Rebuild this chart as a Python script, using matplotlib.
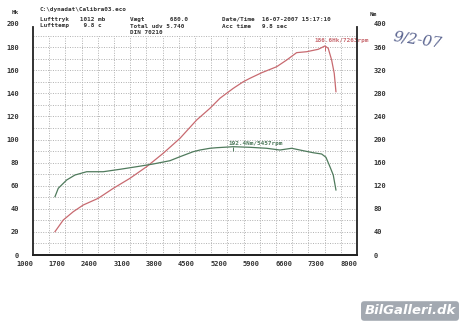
import matplotlib
matplotlib.use("Agg")
import matplotlib.pyplot as plt
import numpy as np

# power curve (Hk)
rpm_hk = [1475, 1654, 1870, 2086, 2410, 2734, 3095, 3456, 3814, 4175, 4536, 4823,
          5039, 5327, 5543, 5687, 5940, 6264, 6480, 6696, 6912, 7163, 7307, 7378,
          7452, 7508, 7545]
hk = [20.2, 30.3, 37.5, 43.3, 49.1, 57.7, 66.4, 76.5, 88.1, 101.0, 116.9, 127.0,
      135.7, 144.3, 150.0, 153.0, 157.8, 163.0, 168.8, 175.2, 176.0, 178.1, 181.0, 179.0,
      168.8, 157.3, 141.4]

# torque curve (Nm)
rpm_nm = [1475, 1546, 1728, 1907, 2160, 2518, 2879, 3240, 3598, 3959, 4175, 4462,
          4607, 4823, 4968, 5327, 5687, 6047, 6335, 6588, 6838, 7054, 7236, 7329,
          7415, 7487, 7545]
nm = [101, 115.5, 129.9, 138.5, 144.2, 144.2, 148.4, 152.9, 157.6, 163.3, 170.2, 178.9,
      181.8, 184.8, 185.8, 187.5, 186.5, 184.8, 181.8, 184.8, 180.6, 177.1, 174.9, 169.2,
      152.9, 138.5, 112.6]

peak_hk = (7307, 181.0, "186.6Hk/7263rpm")
peak_nm = (5327, 187.5, "192.4Nm/5457rpm")

x_ticks = [1000, 1700, 2400, 3100, 3800, 4500, 5200, 5900, 6600, 7300, 8000]
hk_ticks = list(range(0, 201, 20))
nm_ticks = list(range(0, 401, 40))

W, H = 468, 331
fig = plt.figure(figsize=(W / 100, H / 100), dpi=100)
fig.patch.set_facecolor("white")

mono = "DejaVu Sans Mono"
red = "#c86a70"
green = "#4f7a5c"

def fx(px):
    return px / W

def fy(py):
    return 1 - py / H

ax = fig.add_axes([fx(33), fy(255), fx(357) - fx(33), fy(24) - fy(255)])
ax.set_xlim(1000, 8000)
ax.set_ylim(0, 200)
ax2 = ax.twinx()
ax2.set_ylim(0, 400)

# dotted grid, stops at 190 like the print
for gx in np.arange(1350, 8000, 350):
    ax.vlines(gx, 0, 190, colors="#b0b0b0", linestyles=(0, (1, 1.5)), linewidth=0.7)
for gy in np.arange(10, 191, 10):
    ax.hlines(gy, 1000, 8000, colors="#b0b0b0", linestyles=(0, (1, 1.5)), linewidth=0.7)

ax.plot(rpm_hk, hk, color=red, linewidth=0.9)
ax2.plot(rpm_nm, nm, color=green, linewidth=0.9)

# peak markers + labels
ax.vlines(peak_hk[0], peak_hk[1] - 4, peak_hk[1], colors=red, linewidth=0.7)
ax.text(peak_hk[0] - 220, peak_hk[1] + 2.5, peak_hk[2], color=red, fontsize=4.3,
        family=mono, weight="bold", ha="left", va="bottom")
ax2.vlines(peak_nm[0], peak_nm[1] - 8, peak_nm[1], colors=green, linewidth=0.7)
ax2.text(peak_nm[0] - 100, peak_nm[1] + 2, peak_nm[2], color=green, fontsize=4.3,
         family=mono, weight="bold", ha="left", va="bottom")

for a in (ax, ax2):
    a.spines["top"].set_visible(False)
    for s in ("left", "right", "bottom"):
        a.spines[s].set_linewidth(1.3)
        a.spines[s].set_color("#222222")
    a.spines["left"].set_bounds(0, 197)
ax2.spines["right"].set_bounds(0, 394)
ax2.spines["left"].set_visible(False)
ax.spines["right"].set_visible(False)

ax.set_xticks(x_ticks)
ax.set_xticklabels([str(v) for v in x_ticks], family=mono, weight="bold", fontsize=5,
                   ha="right", color="#333333")
ax.set_yticks(hk_ticks)
ax.set_yticklabels([str(v) for v in hk_ticks], family=mono, weight="bold", fontsize=5,
                   color="#333333")
ax2.set_yticks(nm_ticks)
ax2.set_yticklabels([str(v) for v in nm_ticks], family=mono, weight="bold", fontsize=5,
                    color="#333333")
ax.tick_params(axis="x", length=0, pad=4)
ax.tick_params(axis="y", length=0, pad=10)
ax2.tick_params(axis="y", length=0, pad=12)
ax.patch.set_alpha(0)

# header
tk = dict(family=mono, weight="bold", fontsize=4.3, color="#333333", va="center")
fig.text(fx(12), fy(13), "Hk", **tk)
fig.text(fx(370), fy(14), "Nm", **tk)
fig.text(fx(40), fy(9), "C:\\dynadat\\Calibra03.eco", **tk)
fig.text(fx(40), fy(20), "Lufttryk   1012 mb", **tk)
fig.text(fx(40), fy(26), "Lufttemp    9.8 c", **tk)
fig.text(fx(130), fy(20), "Vægt       680.0", **tk)
fig.text(fx(130), fy(26), "Total udv 5.740", **tk)
fig.text(fx(130), fy(32), "DIN 70210", **tk)
fig.text(fx(222), fy(19), "Date/Time  16-07-2007 15:17:10", **tk)
fig.text(fx(222), fy(26), "Acc time   9.8 sec", **tk)

# handwritten note
fig.text(fx(392), fy(40), "9/2-07", fontsize=11, color="#5a6490", style="italic",
         rotation=-8, family="DejaVu Serif", va="center")

# watermark
fig.text(fx(410), fy(311), "BilGalleri.dk", fontsize=9.5, color="white", weight="bold",
         style="italic", ha="center", va="center",
         bbox=dict(boxstyle="round,pad=0.25", facecolor="#a3a9b1", edgecolor="none"))

fig.savefig("out.png", dpi=100, facecolor="white")
